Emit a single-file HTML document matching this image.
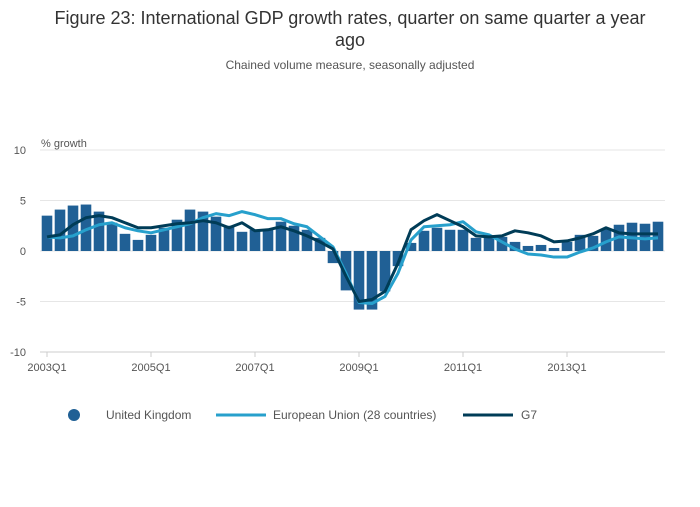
<!DOCTYPE html>
<html><head><meta charset="utf-8"><style>
body{margin:0;background:#fff;font-family:"Liberation Sans",sans-serif;}
#wrap{position:relative;width:700px;height:502px;}
</style></head><body>
<div id="wrap">
<svg id="chart" width="700" height="502">
<text x="350" y="24" text-anchor="middle" font-size="18" fill="#333">Figure 23: International GDP growth rates, quarter on same quarter a year</text>
<text x="350" y="46" text-anchor="middle" font-size="18" fill="#333">ago</text>
<text x="350" y="69" text-anchor="middle" font-size="12" fill="#555">Chained volume measure, seasonally adjusted</text>
<text x="41" y="147" font-size="11" fill="#555">% growth</text>
<g id="grid"></g><g id="bars"></g><g id="lines"></g><g id="xaxis"></g>
<g>
<circle cx="74" cy="415" r="6" fill="#206095"/>
<text x="106" y="419" font-size="12" fill="#555">United Kingdom</text>
<line x1="216" y1="415" x2="266" y2="415" stroke="#27a0cc" stroke-width="3"/>
<text x="273" y="419" font-size="12" fill="#555">European Union (28 countries)</text>
<line x1="463" y1="415" x2="513" y2="415" stroke="#003c57" stroke-width="3"/>
<text x="521" y="419" font-size="12" fill="#555">G7</text>
</g>
</svg></div>
<script>
const ukValues=[3.5,4.1,4.5,4.6,3.9,2.8,1.7,1.1,1.6,2.3,3.1,4.1,3.9,3.4,2.5,1.9,2.1,2.1,2.9,2.5,2.1,1.3,-1.2,-3.9,-5.8,-5.8,-4.0,-1.5,0.8,2.0,2.3,2.1,2.1,1.3,1.3,1.4,0.9,0.5,0.6,0.3,0.9,1.6,1.5,2.2,2.6,2.8,2.7,2.9];
const euValues=[1.4,1.3,1.5,2.1,2.6,2.8,2.3,2.0,1.8,2.1,2.4,2.7,3.3,3.7,3.5,3.9,3.6,3.2,3.2,2.7,2.4,1.4,0.4,-2.2,-5.1,-5.2,-4.5,-2.2,1.1,2.4,2.5,2.6,2.9,1.9,1.6,0.9,0.2,-0.3,-0.4,-0.6,-0.6,-0.1,0.3,0.9,1.4,1.3,1.2,1.3];
const g7Values=[1.4,1.6,2.6,3.3,3.5,3.3,2.8,2.3,2.3,2.5,2.7,2.8,3.0,2.8,2.3,2.8,2.0,2.1,2.4,2.0,1.5,0.9,0.2,-2.5,-5.0,-4.8,-4.0,-1.2,2.1,3.0,3.6,3.0,2.4,1.5,1.4,1.5,2.0,1.8,1.5,0.9,1.0,1.3,1.7,2.3,1.8,1.7,1.7,1.7];
const yTicks=[10,5,0,-5,-10];
const xTickLabels=["2003Q1","2005Q1","2007Q1","2009Q1","2011Q1","2013Q1"];
const xTickIndex=[0,8,16,24,32,40];
const NS="http://www.w3.org/2000/svg";
const x=i=>47+13*i, y=v=>251-10.1*v;
function mk(t,a,p){const e=document.createElementNS(NS,t);for(const k in a)e.setAttribute(k,a[k]);p.appendChild(e);return e;}
const grid=document.getElementById('grid');
yTicks.forEach(v=>{
 const l=mk('line',{x1:40,x2:665,y1:y(v),y2:y(v),stroke:v==-10?'#ccc':'#e6e6e6','stroke-width':1},grid);
 
 
 const t=mk('text',{x:26,y:y(v)+4,'text-anchor':'end','font-size':11,fill:'#555'},grid);t.textContent=v;
 
 
});
const bars=document.getElementById('bars');
ukValues.forEach((v,i)=>{
 const r=mk('rect',{x:x(i)-5.3,width:10.6,y:Math.min(y(v),y(0)),height:Math.abs(y(v)-y(0)),fill:'#206095'},bars);
 
 
});
const lines=document.getElementById('lines');
[[euValues,'#27a0cc','line-eu'],[g7Values,'#003c57','line-g7']].forEach(([d,c,n])=>{
 const p=mk('polyline',{points:d.map((v,i)=>x(i)+','+y(v)).join(' '),fill:'none',stroke:c,'stroke-width':3,'stroke-linejoin':'round'},lines);
 
 
});
const xa=document.getElementById('xaxis');
xTickIndex.forEach((qi,k)=>{
 mk('line',{x1:x(qi),x2:x(qi),y1:352,y2:357,stroke:'#ccc'},xa);
 const t=mk('text',{x:x(qi),y:371,'text-anchor':'middle','font-size':11,fill:'#555'},xa);t.textContent=xTickLabels[k];
 
 
});
</script></body></html>
